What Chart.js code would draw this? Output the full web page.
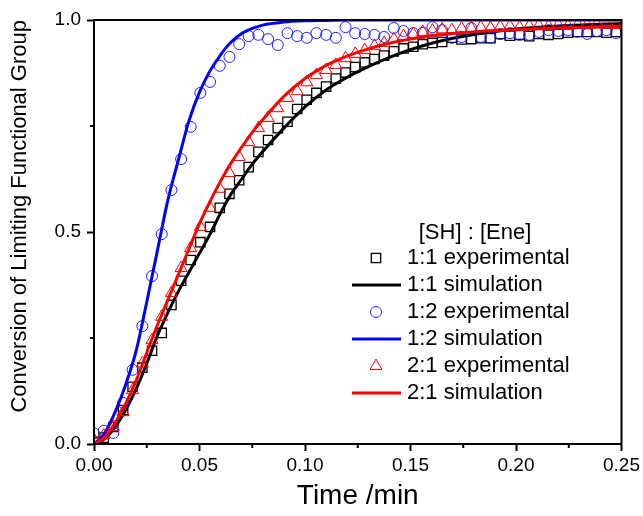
<!DOCTYPE html>
<html lang="en">
<head>
    <meta charset="UTF-8">
    <title>Conversion of Limiting Functional Group</title>
    <script src="https://cdn.jsdelivr.net/npm/chart.js@4.4.1/dist/chart.umd.min.js"></script>
    <style>
        body {
            margin: 0;
            background: #fff;
        }

        .chart-box {
            width: 643px;
            height: 516px;
        }
    </style>
</head>
<body>
    <div class="chart-box">
        <canvas id="conversionChart" width="643" height="516"></canvas>
    </div>

    <script>
        // sampling times of the measured points (min)
        const expTime = [0, 0.0046, 0.0092, 0.0138, 0.0183, 0.0229, 0.0275, 0.0321, 0.0367, 0.0413,
            0.0458, 0.0504, 0.0550, 0.0596, 0.0642, 0.0688, 0.0733, 0.0779, 0.0825, 0.0871,
            0.0917, 0.0963, 0.1008, 0.1054, 0.1100, 0.1146, 0.1192, 0.1238, 0.1283, 0.1329,
            0.1375, 0.1421, 0.1467, 0.1513, 0.1558, 0.1604, 0.1650, 0.1696, 0.1742, 0.1788,
            0.1833, 0.1879, 0.1925, 0.1971, 0.2017, 0.2063, 0.2108, 0.2154, 0.2200, 0.2246,
            0.2292, 0.2338, 0.2383, 0.2429, 0.2475];

        // 1:1 experimental (squares)
        const exp11 = [0.005, 0.015, 0.04, 0.08, 0.135, 0.18, 0.22, 0.262, 0.328, 0.385,
            0.434, 0.476, 0.512, 0.557, 0.59, 0.622, 0.653, 0.689, 0.717, 0.745,
            0.76, 0.79, 0.812, 0.828, 0.843, 0.862, 0.876, 0.889, 0.9, 0.908,
            0.916, 0.926, 0.933, 0.937, 0.943, 0.946, 0.948, 0.958, 0.954, 0.955,
            0.957, 0.957, 0.967, 0.963, 0.965, 0.962, 0.967, 0.965, 0.967, 0.97,
            0.972, 0.972, 0.972, 0.97, 0.972];

        // 1:2 experimental (circles)
        const exp12 = [0.025, 0.031, 0.026, 0.097, 0.175, 0.278, 0.396, 0.495, 0.599, 0.672,
            0.748, 0.828, 0.854, 0.892, 0.913, 0.943, 0.962, 0.965, 0.955, 0.941,
            0.969, 0.962, 0.958, 0.969, 0.965, 0.958, 0.983, 0.969, 0.967, 0.965,
            0.96, 0.981, 0.974, 0.969, 0.97, 0.983, 0.976, 0.958, 0.96, 0.981,
            0.96, 0.958, 0.967, 0.969, 0.965, 0.965, 0.972, 0.976, 0.974, 0.976,
            0.972, 0.967, 0.974, 0.976, 0.969];

        // 2:1 experimental (triangles)
        const exp21 = [0.01, 0.02, 0.04, 0.075, 0.127, 0.19, 0.245, 0.30, 0.356, 0.415,
            0.462, 0.512, 0.557, 0.602, 0.639, 0.677, 0.712, 0.745, 0.769, 0.792,
            0.816, 0.832, 0.853, 0.87, 0.882, 0.894, 0.91, 0.92, 0.929, 0.939,
            0.946, 0.955, 0.962, 0.967, 0.972, 0.975, 0.978, 0.976, 0.98, 0.981,
            0.983, 0.981, 0.984, 0.985, 0.983, 0.986, 0.987, 0.985, 0.988, 0.986,
            0.989, 0.988, 0.99, 0.989, 0.988];

        // simulated curves
        const simTime = [0, 0.005, 0.01, 0.015, 0.02, 0.025, 0.03, 0.035, 0.04, 0.045,
            0.05, 0.055, 0.06, 0.065, 0.07, 0.075, 0.08, 0.09, 0.10, 0.11,
            0.12, 0.13, 0.14, 0.15, 0.16, 0.17, 0.18, 0.19, 0.20, 0.22, 0.25];
        const sim11 = [0, 0.012, 0.04, 0.08, 0.13, 0.19, 0.255, 0.31, 0.36, 0.405,
            0.45, 0.495, 0.545, 0.59, 0.625, 0.66, 0.69, 0.745, 0.795, 0.835,
            0.865, 0.89, 0.912, 0.93, 0.945, 0.957, 0.966, 0.973, 0.979, 0.986, 0.992];
        const sim12 = [0, 0.025, 0.075, 0.14, 0.22, 0.335, 0.455, 0.575, 0.67, 0.762,
            0.83, 0.88, 0.918, 0.948, 0.968, 0.98, 0.988, 0.995, 0.998, 0.999,
            1.0, 1.0, 1.0, 1.0, 1.0, 1.0, 1.0, 1.0, 1.0, 1.0, 1.0];
        const sim21 = [0, 0.015, 0.05, 0.095, 0.15, 0.215, 0.28, 0.34, 0.40, 0.46,
            0.52, 0.572, 0.62, 0.663, 0.70, 0.735, 0.765, 0.82, 0.862, 0.893,
            0.915, 0.932, 0.945, 0.955, 0.963, 0.968, 0.972, 0.975, 0.977, 0.981, 0.985];

        const xTicks = [0, 0.05, 0.10, 0.15, 0.20, 0.25];
        const xMinor = [0.025, 0.075, 0.125, 0.175, 0.225];
        const yTicks = [0, 0.5, 1.0];
        const yMinor = [0.25, 0.75];

        const legendTitle = '[SH] : [Ene]';
        const FONT = '"Liberation Sans", Arial, sans-serif';

        function toPoints(xs, ys) {
            return xs.map((x, i) => ({ x: x, y: ys[i] }));
        }

        function scatterSet(label, ys, style, color, radius, width, order) {
            return {
                label: label,
                data: toPoints(expTime, ys),
                showLine: false,
                pointStyle: style,
                pointRadius: radius,
                pointBorderWidth: width,
                pointBorderColor: color,
                pointBackgroundColor: 'rgba(0,0,0,0)',
                order: order
            };
        }

        function lineSet(label, ys, color, order) {
            return {
                label: label,
                data: toPoints(simTime, ys),
                showLine: true,
                borderColor: color,
                borderWidth: 3,
                pointRadius: 0,
                cubicInterpolationMode: 'monotone',
                fill: false,
                order: order
            };
        }

        // frame, minor ticks and the legend inside the plot
        const framePlugin = {
            id: 'frame',
            afterDatasetsDraw(chart) {
                const ctx = chart.ctx;
                const a = chart.chartArea;
                const xs = chart.scales.x;
                const ys = chart.scales.y;
                ctx.save();
                ctx.strokeStyle = '#000';
                ctx.lineWidth = 2;
                ctx.strokeRect(a.left, a.top, a.right - a.left, a.bottom - a.top);
                ctx.beginPath();
                xMinor.forEach(v => {
                    const px = xs.getPixelForValue(v);
                    ctx.moveTo(px, a.bottom);
                    ctx.lineTo(px, a.bottom + 4);
                });
                yMinor.forEach(v => {
                    const py = ys.getPixelForValue(v);
                    ctx.moveTo(a.left, py);
                    ctx.lineTo(a.left - 4, py);
                });
                ctx.stroke();
                ctx.restore();
            },
            afterDraw(chart) {
                const ctx = chart.ctx;
                ctx.save();
                ctx.font = '22px ' + FONT;
                ctx.fillStyle = '#000';
                ctx.textBaseline = 'middle';
                ctx.textAlign = 'center';
                ctx.fillText(legendTitle, 475, 233);
                ctx.textAlign = 'left';
                chart.data.datasets.forEach((ds, i) => {
                    const y = 258 + i * 27;
                    if (ds.showLine) {
                        ctx.strokeStyle = ds.borderColor;
                        ctx.lineWidth = ds.borderWidth;
                        ctx.beginPath();
                        ctx.moveTo(352, y);
                        ctx.lineTo(401, y);
                        ctx.stroke();
                    } else {
                        ctx.strokeStyle = ds.pointBorderColor;
                        ctx.fillStyle = 'rgba(0,0,0,0)';
                        ctx.lineWidth = ds.pointBorderWidth;
                        Chart.helpers.drawPoint(ctx, {
                            pointStyle: ds.pointStyle,
                            radius: ds.pointRadius,
                            rotation: 0,
                            borderWidth: ds.pointBorderWidth
                        }, 376, y);
                    }
                    ctx.fillStyle = '#000';
                    ctx.fillText(ds.label, 407, y);
                });
                ctx.restore();
            }
        };

        const ctx = document.getElementById('conversionChart').getContext('2d');
        new Chart(ctx, {
            type: 'scatter',
            data: {
                datasets: [
                    scatterSet('1:1 experimental', exp11, 'rect', '#000000', 6.6, 1.3, 6),
                    lineSet('1:1 simulation', sim11, '#000000', 5),
                    scatterSet('1:2 experimental', exp12, 'circle', '#1f1fff', 5.5, 1, 4),
                    lineSet('1:2 simulation', sim12, '#0000ff', 3),
                    scatterSet('2:1 experimental', exp21, 'triangle', '#ff0000', 7, 1, 2),
                    lineSet('2:1 simulation', sim21, '#ff0000', 1)
                ]
            },
            options: {
                responsive: false,
                animation: false,
                devicePixelRatio: 1,
                events: [],
                layout: {
                    padding: { left: 0, top: 20, right: 19, bottom: 0 }
                },
                plugins: {
                    legend: { display: false },
                    tooltip: { enabled: false }
                },
                scales: {
                    x: {
                        type: 'linear',
                        min: 0,
                        max: 0.25,
                        afterBuildTicks: s => { s.ticks = xTicks.map(v => ({ value: v })); },
                        afterFit: s => { s.height = 72; },
                        grid: {
                            drawOnChartArea: false,
                            tickLength: 7,
                            tickWidth: 2,
                            tickColor: '#000'
                        },
                        border: { display: true, color: '#000', width: 2 },
                        ticks: {
                            color: '#000',
                            padding: 3,
                            maxRotation: 0,
                            font: { family: FONT, size: 19 },
                            callback: v => v.toFixed(2)
                        },
                        title: {
                            display: true,
                            text: 'Time /min',
                            color: '#000',
                            padding: { top: 0, bottom: 3 },
                            font: { family: FONT, size: 28 }
                        }
                    },
                    y: {
                        type: 'linear',
                        min: 0,
                        max: 1,
                        afterBuildTicks: s => { s.ticks = yTicks.map(v => ({ value: v })); },
                        afterFit: s => { s.width = 94; },
                        grid: {
                            drawOnChartArea: false,
                            tickLength: 7,
                            tickWidth: 2,
                            tickColor: '#000'
                        },
                        border: { display: true, color: '#000', width: 2 },
                        ticks: {
                            color: '#000',
                            padding: 6,
                            font: { family: FONT, size: 19 },
                            callback: v => v.toFixed(1)
                        },
                        title: {
                            display: true,
                            text: 'Conversion of Limiting Functional Group',
                            color: '#000',
                            align: 'end',
                            padding: { top: 7, bottom: 0 },
                            font: { family: FONT, size: 22 }
                        }
                    }
                }
            },
            plugins: [framePlugin]
        });
    </script>
</body>
</html>
